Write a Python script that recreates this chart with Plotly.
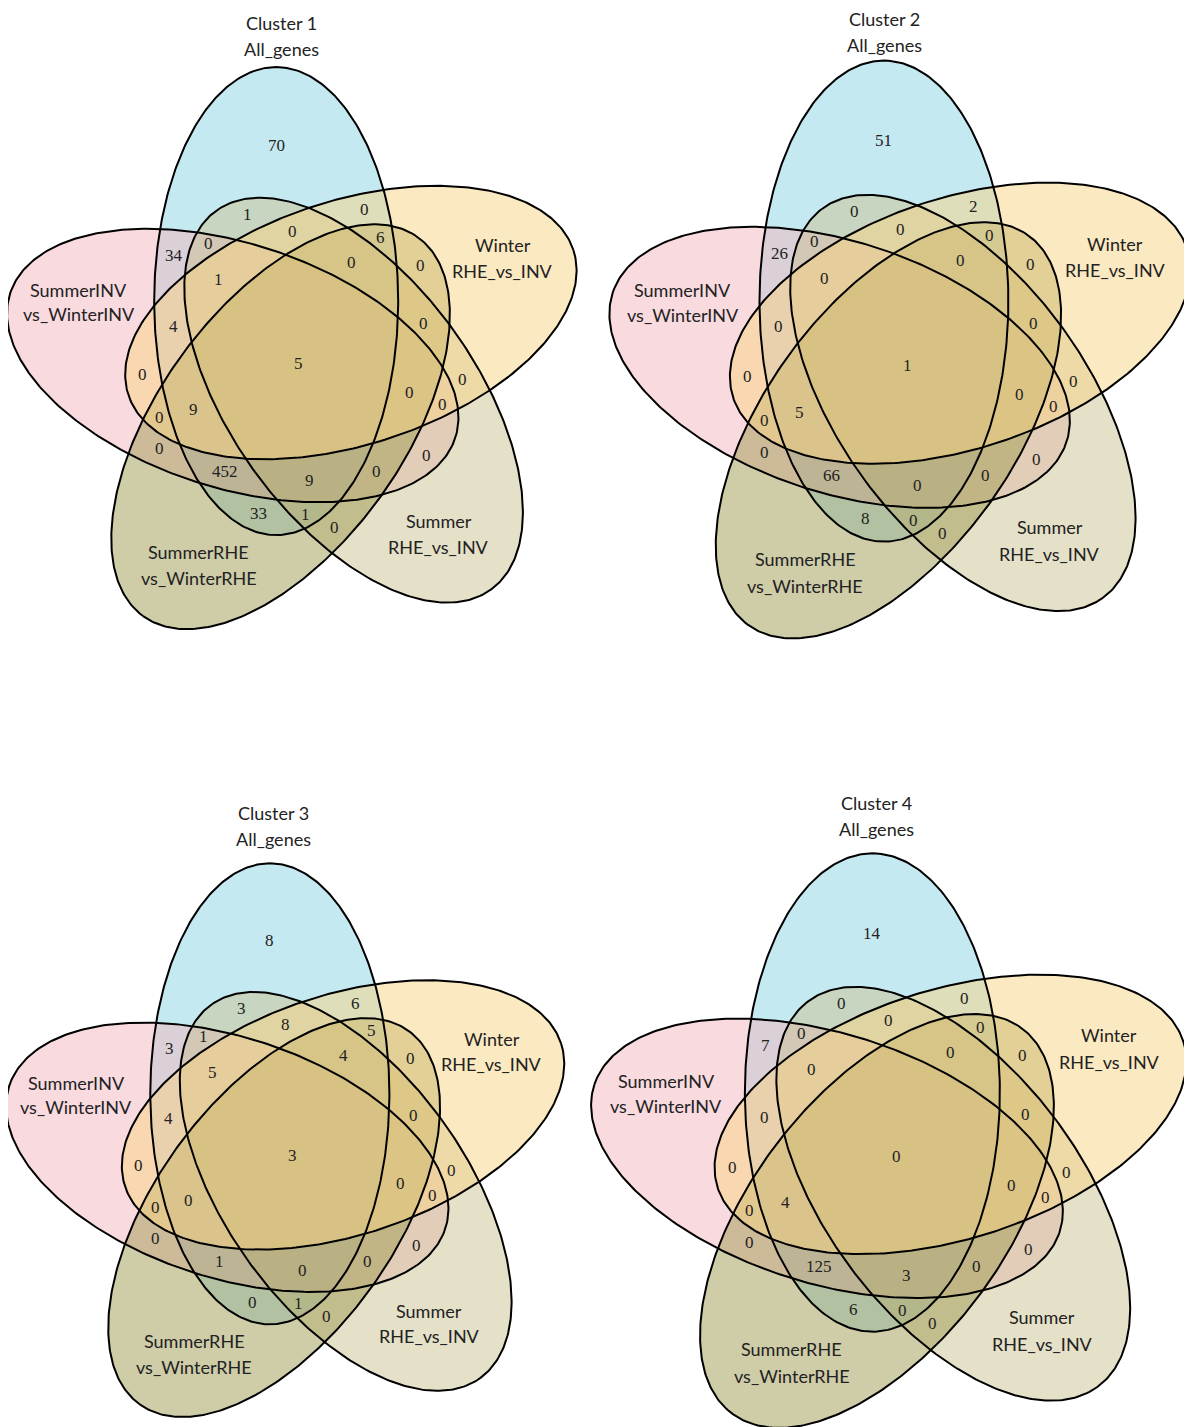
import numpy as np
import plotly.graph_objects as go

# --- data -------------------------------------------------------------
cluster_titles = ["Cluster 1", "Cluster 2", "Cluster 3", "Cluster 4"]
set_names = ["All_genes", "Winter RHE_vs_INV", "Summer RHE_vs_INV",
             "SummerRHE vs_WinterRHE", "SummerINV vs_WinterINV"]

# counts per region, same region order for every cluster
counts_c1 = [70, 1, 0, 0, 6, 34, 0, 1, 0, 0, 4, 0, 5, 0, 0, 0, 0, 9, 0, 0, 452, 9, 0, 0, 33, 1, 0]
counts_c2 = [51, 0, 2, 0, 0, 26, 0, 0, 0, 0, 0, 0, 1, 0, 0, 0, 0, 5, 0, 0, 66, 0, 0, 0, 8, 0, 0]
counts_c3 = [8, 3, 6, 8, 5, 3, 1, 5, 4, 0, 4, 0, 3, 0, 0, 0, 0, 0, 0, 0, 1, 0, 0, 0, 0, 1, 0]
counts_c4 = [14, 0, 0, 0, 0, 7, 0, 0, 0, 0, 0, 0, 0, 0, 0, 0, 0, 4, 0, 0, 125, 3, 0, 0, 6, 0, 0]
all_counts = [counts_c1, counts_c2, counts_c3, counts_c4]

# --- layout / geometry ------------------------------------------------
W, H = 1192, 1427
PAGE_OFFSET = 8  # default body margin of the page
A_MAJ, B_MIN, DIST = 234, 122, 66.1

# panel centre and x/y scale
panels = [
    (298.8, 363.2, 1.0, 1.0),
    (907.0, 365.0, 1.02, 1.028),
    (292.0, 1155.0, 0.98, 0.985),
    (896.0, 1156.0, 1.045, 1.022),
]
# title block (two lines) position per panel
title_pos = [(281, 23), (884, 19), (273, 813), (876, 803)]

# set order: blue, yellow, khaki, olive, pink (k = 0..4 clockwise)
set_colors = [
    (139, 211, 225),
    (247, 211, 131),
    (203, 193, 145),
    (159, 153, 81),
    (241, 181, 191),
]
draw_order = [0, 4, 2, 3, 1]

# label offsets for the regions (px, base scale) relative to panel centre
region_offsets = [
    (-22.8, -218.2), (-51.8, -149.2), (65.2, -154.2), (-6.8, -132.2), (81.2, -126.2),
    (-124.8, -108.2), (-90.8, -120.2), (-80.8, -84.2), (52.2, -101.2), (121.2, -98.2),
    (-125.8, -37.2), (124.2, -40.2), (0, 0), (-156.8, 10.8), (163.2, 15.8),
    (110.2, 28.8), (-139.8, 53.8), (-105.8, 45.8), (143.2, 40.8), (-139.8, 84.8),
    (-73.8, 107.8), (10.2, 116.8), (77.2, 107.8), (127.2, 91.8), (-40.8, 149.8),
    (6.2, 150.8), (35.2, 163.8),
]

# set name label offsets (two lines each); All_genes sits in the title block
name_offsets = [
    (),
    ((204, -118), (204, -92)),
    ((140, 158), (140, 184)),
    ((-100, 189), (-100, 215)),
    ((-220, -73), (-220, -49)),
]


def ellipse_xy(ox, oy, sx, sy, k):
    axis = np.radians(90 - 72 * k)
    phi = np.radians(110 - 72 * k)
    cx = ox + sx * DIST * np.cos(phi)
    cy = oy - sy * DIST * np.sin(phi)
    t = np.linspace(0, 2 * np.pi, 361)
    dx = A_MAJ * np.cos(t) * np.cos(axis) - B_MIN * np.sin(t) * np.sin(axis)
    dy = A_MAJ * np.cos(t) * np.sin(axis) + B_MIN * np.sin(t) * np.cos(axis)
    return cx + sx * dx, cy - sy * dy


fig = go.Figure()
annotations = []
label_font = dict(family="Lato", size=18, color="#222")

for p, (ox, oy, sx, sy) in enumerate(panels):
    shapes_xy = [ellipse_xy(ox, oy, sx, sy, k) for k in range(5)]
    for k in draw_order:
        x, y = shapes_xy[k]
        r, g, b = set_colors[k]
        fig.add_trace(go.Scatter(
            x=x, y=y, mode="lines", fill="toself",
            fillcolor=f"rgba({r},{g},{b},0.5)",
            line=dict(width=0), hoverinfo="skip", showlegend=False,
        ))
    for k in range(5):
        x, y = shapes_xy[k]
        fig.add_trace(go.Scatter(
            x=x, y=y, mode="lines", line=dict(color="black", width=2),
            hoverinfo="skip", showlegend=False,
        ))

    for (dx, dy), n in zip(region_offsets, all_counts[p]):
        annotations.append(dict(
            x=ox + sx * dx, y=oy + sy * dy, text=str(n), showarrow=False,
            font=dict(family="Liberation Serif", size=17, color="#222"),
        ))

    tx, ty = title_pos[p]
    for i, txt in enumerate([cluster_titles[p], set_names[0]]):
        annotations.append(dict(
            x=tx, y=ty + 26 * i, text=txt, showarrow=False, font=label_font,
            borderpad=0,
        ))
    for k, offs in enumerate(name_offsets):
        parts = set_names[k].split(" ")
        for (dx, dy), txt in zip(offs, parts):
            annotations.append(dict(
                x=ox + sx * dx, y=oy + sy * dy, text=txt,
                showarrow=False, font=label_font,
            ))

fig.update_layout(
    width=W, height=H,
    margin=dict(l=0, r=0, t=0, b=0),
    paper_bgcolor="white", plot_bgcolor="white",
    xaxis=dict(range=[PAGE_OFFSET, W + PAGE_OFFSET], visible=False, fixedrange=True),
    yaxis=dict(range=[H + PAGE_OFFSET, PAGE_OFFSET], visible=False, fixedrange=True),
    annotations=annotations,
    showlegend=False,
)

fig.write_html("out.html")
